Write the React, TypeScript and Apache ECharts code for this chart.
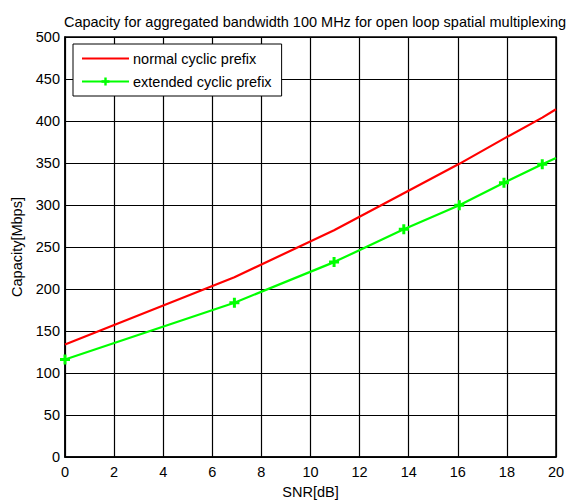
import React, { useEffect, useRef } from "react";
import * as echarts from "echarts";

const snr = [0, 6.9, 10.96, 13.8, 16.06, 17.88, 19.44, 20];
const normalCP = [134, 214, 270, 314, 349, 379, 404, 414];
const extendedCP = [116, 183.7, 232, 271, 299.6, 326.5, 348.4, 356];
const xTicks = [0, 2, 4, 6, 8, 10, 12, 14, 16, 18, 20];
const yTicks = [0, 50, 100, 150, 200, 250, 300, 350, 400, 450, 500];

const plusPath = "path://M3.5,0 L6.5,0 L6.5,3.5 L10,3.5 L10,6.5 L6.5,6.5 L6.5,10 L3.5,10 L3.5,6.5 L0,6.5 L0,3.5 L3.5,3.5 Z";

export default function App() {
  const ref = useRef<HTMLDivElement>(null);
  useEffect(() => {
    if (!ref.current) return;
    const chart = echarts.init(ref.current, undefined, { renderer: "svg" });
    const font = "'Liberation Sans', Arial, sans-serif";
    const fs = 14.5;
    chart.setOption({
      animation: false,
      backgroundColor: "#ffffff",
      textStyle: { fontFamily: font, color: "#000" },
      title: {
        text: "Capacity for aggregated bandwidth 100 MHz for open loop spatial multiplexing",
        left: 310,
        top: 9,
        textAlign: "center",
        textStyle: { fontFamily: font, fontSize: fs, fontWeight: "normal", color: "#000" },
      },
      grid: {
        left: 65,
        right: 15,
        top: 37,
        bottom: 47,
        show: true,
        borderColor: "#000",
        borderWidth: 1.5,
        backgroundColor: "transparent",
      },
      legend: {
        orient: "vertical",
        left: 73,
        top: 44,
        padding: [7, 10, 7, 8],
        itemGap: 8,
        itemWidth: 47,
        itemHeight: 10,
        backgroundColor: "#fff",
        borderColor: "#000",
        borderWidth: 1,
        borderRadius: 0,
        textStyle: { fontFamily: font, fontSize: fs, color: "#000", padding: [0, 0, 0, -1] },
        data: [
          { name: "normal cyclic prefix", itemStyle: { opacity: 0 } },
          { name: "extended cyclic prefix" },
        ],
      },
      xAxis: {
        type: "value",
        min: 0,
        max: 20,
        interval: 2,
        name: "SNR[dB]",
        nameLocation: "middle",
        nameGap: 27,
        nameTextStyle: { fontFamily: font, fontSize: fs, color: "#000" },
        axisLine: { show: true, lineStyle: { color: "#000", width: 1.5 } },
        axisTick: { show: false },
        axisLabel: {
          fontFamily: font,
          fontSize: fs,
          color: "#000",
          margin: 7,
          formatter: (v: number) => (xTicks.includes(v) ? String(v) : ""),
        },
        splitLine: { show: true, lineStyle: { color: "#000", width: 1.2 } },
      },
      yAxis: {
        type: "value",
        min: 0,
        max: 500,
        interval: 50,
        name: "Capacity[Mbps]",
        nameLocation: "middle",
        nameGap: 35,
        nameTextStyle: { fontFamily: font, fontSize: fs, color: "#000" },
        axisLine: { show: true, lineStyle: { color: "#000", width: 1.5 } },
        axisTick: { show: false },
        axisLabel: {
          fontFamily: font,
          fontSize: fs,
          color: "#000",
          margin: 5,
          formatter: (v: number) => (yTicks.includes(v) ? String(v) : ""),
        },
        splitLine: { show: true, lineStyle: { color: "#000", width: 1.2 } },
      },
      series: [
        {
          name: "normal cyclic prefix",
          type: "line",
          data: snr.map((x, i) => [x, normalCP[i]]),
          symbol: "none",
          lineStyle: { color: "#ff0000", width: 2.2 },
          itemStyle: { color: "#ff0000" },
        },
        {
          name: "extended cyclic prefix",
          type: "line",
          data: snr.map((x, i) =>
            i === snr.length - 1
              ? { value: [x, extendedCP[i]], symbol: "none" }
              : [x, extendedCP[i]]
          ),
          symbol: plusPath,
          symbolSize: 10,
          lineStyle: { color: "#00ff00", width: 2.2 },
          itemStyle: { color: "#00ff00" },
        },
      ],
    });
    return () => chart.dispose();
  }, []);
  return (
    <div
      ref={ref}
      style={{ position: "absolute", left: 0, top: 0, width: 571, height: 504 }}
    />
  );
}
